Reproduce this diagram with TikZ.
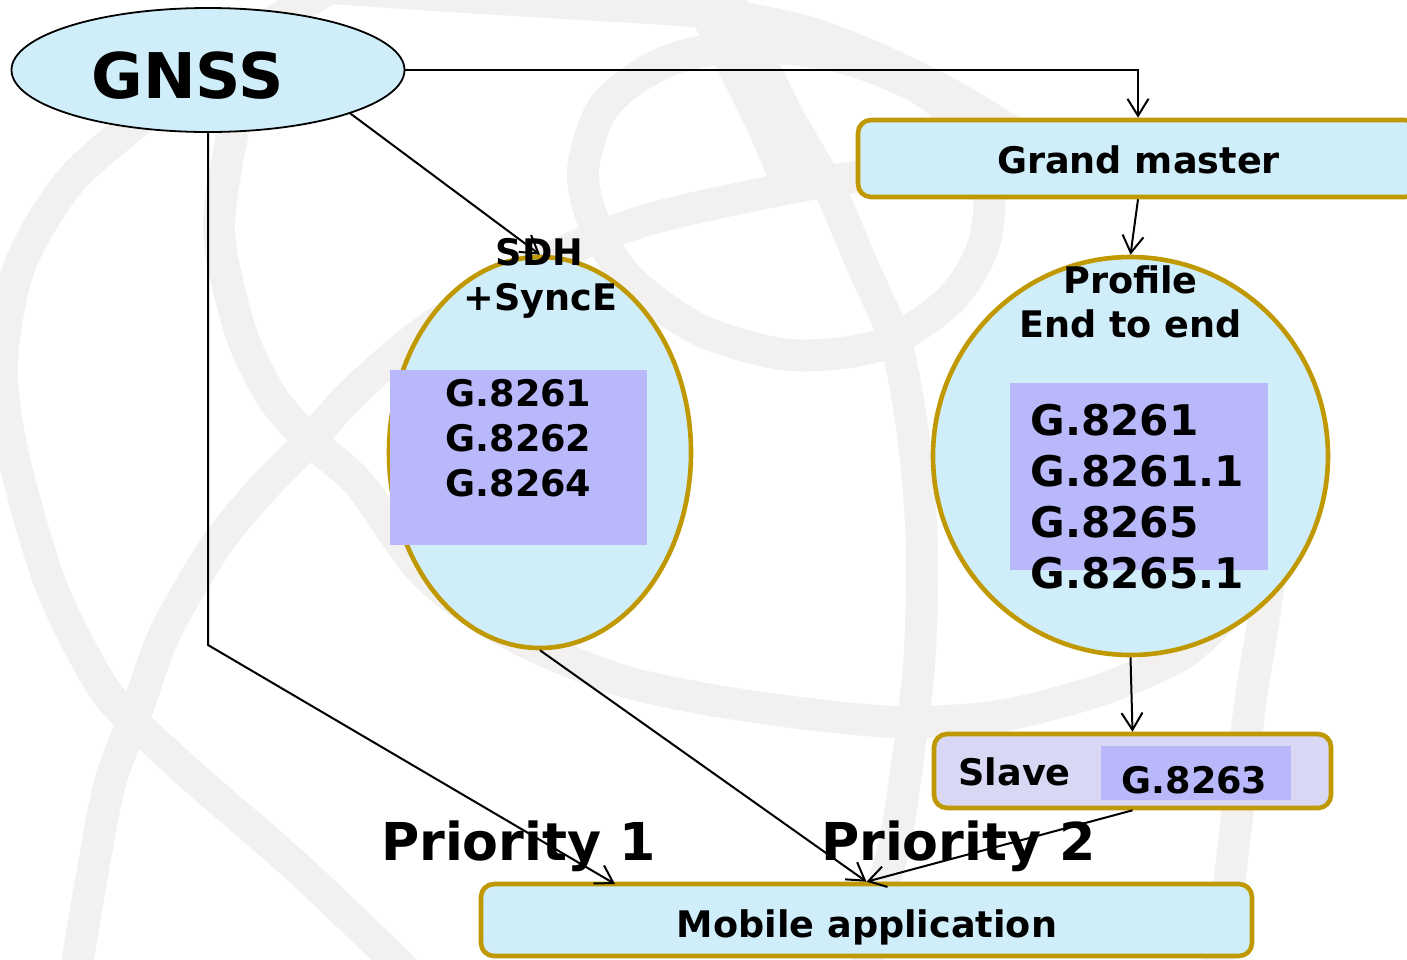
\documentclass[tikz,border=0pt]{standalone}
\usepackage{fontspec}
\setmainfont{DejaVu Sans}
\usetikzlibrary{shapes.geometric,arrows.meta}

\definecolor{skyfill}{RGB}{208,238,249}
\definecolor{goldline}{RGB}{192,152,0}
\definecolor{lilacbox}{RGB}{184,184,250}
\definecolor{slavefill}{RGB}{216,216,244}
\definecolor{globegrey}{RGB}{242,241,239}

\tikzset{
  globeband/.style={draw=globegrey, line width=16pt},
  gnssoval/.style={ellipse, draw=black, line width=0.9pt, fill=skyfill, inner sep=0pt},
  goldoval/.style={ellipse, draw=goldline, line width=2.3pt, fill=skyfill, inner sep=0pt},
  goldbox/.style={rectangle, draw=goldline, line width=2.3pt, rounded corners=6.5pt, fill=skyfill, inner sep=0pt},
  lilac/.style={rectangle, fill=lilacbox, inner sep=0pt},
  txt/.style={inner sep=0pt, anchor=base, font=\bfseries\fontsize{18.3}{22}\selectfont},
  bigtxt/.style={txt, font=\bfseries\fontsize{21.1}{25}\selectfont},
  prio/.style={txt, font=\bfseries\fontsize{26.1}{30}\selectfont},
  title/.style={txt, font=\bfseries\fontsize{31.5}{36}\selectfont},
  link/.style={draw=black, line width=1pt, -{Straight Barb[length=8.5pt,width=10.5pt,line width=1pt]}}
}

\begin{document}
\begin{tikzpicture}[x=0.5pt,y=-0.5pt]
\useasboundingbox (0,0) rectangle (1407,959);
\clip (0,0) rectangle (1407,959);
\fill[white] (0,0) rectangle (1407,959);

% faint globe emblem in the background
\draw[globeband] plot[smooth] coordinates {(330,-12) (230,50) (127,130) (67,185) (20,265) (2,360) (12,450) (50,583) (100,683) (137,725) (200,783) (300,870) (410,975)};
\draw[globeband] plot[smooth] coordinates {(330,-12) (450,-4) (580,4) (700,12) (800,30) (880,60) (960,100) (1040,150)};
\draw[globeband] plot[smooth] coordinates {(75,975) (93,870) (110,783) (137,710) (165,633) (213,550) (255,497) (310,440) (353,393) (420,335) (520,272) (640,222) (790,188) (900,170) (1010,150)};
\draw[globeband] plot[smooth] coordinates {(240,100) (233,130) (219,230) (240,330) (272,397) (310,440) (360,485) (417,565) (470,610) (536,647) (620,680) (700,698) (800,713) (900,722) (1000,716) (1100,690) (1180,655) (1225,615)};
\draw[globeband] plot[smooth cycle] coordinates {(583,170) (605,105) (665,62) (740,47) (840,57) (930,95) (985,160) (985,240) (950,300) (880,345) (790,355) (700,330) (630,280) (595,225)};
\draw[globeband] plot[smooth] coordinates {(720,-15) (760,60) (790,120) (830,190) (860,260) (897,347) (915,450) (922,550) (920,650) (913,720) (897,833) (880,900) (866,975)};
\draw[globeband] plot[smooth] coordinates {(690,-15) (720,40) (760,120) (790,190)};
\draw[globeband] plot[smooth] coordinates {(1290,420) (1275,540) (1262,630) (1250,705) (1230,876) (1215,975)};

% shapes
\node[gnssoval, minimum width=196.5pt, minimum height=62pt] (gnss) at (208,70) {};
\node[goldbox, minimum width=280pt, minimum height=38.5pt] (gm) at (1138,158.5) {};
\node[goldoval, minimum width=151pt, minimum height=195.5pt] (sdh) at (540,452.5) {};
\node[lilac, minimum width=128.5pt, minimum height=87.5pt] (sdhstd) at (518.5,457.5) {};
\node[goldoval, minimum width=197.5pt, minimum height=199pt] (prof) at (1130.5,456) {};
\node[lilac, minimum width=129pt, minimum height=93.5pt] (profstd) at (1139,476.5) {};
\node[goldbox, fill=slavefill, minimum width=198.5pt, minimum height=37pt] (slave) at (1132.5,771) {};
\node[lilac, minimum width=95pt, minimum height=27pt] (slavestd) at (1196,773) {};
\node[goldbox, minimum width=385.5pt, minimum height=36pt] (mob) at (866.5,920) {};

% texts
\node[title] (gnsstext) at (187.5,98) {GNSS};
\node[txt] (gmtext) at (1138.5,173) {Grand master};
\node[txt] (sdhtext) at (539.5,265) {SDH};
\node[txt] (synctext) at (540.5,310) {+SyncE};
\node[txt] (sdhA) at (518.5,406) {G.8261};
\node[txt] (sdhB) at (518.5,451) {G.8262};
\node[txt] (sdhC) at (518.5,496) {G.8264};
\node[txt] (proftext) at (1130.5,293) {Profile};
\node[txt] (e2etext) at (1130.5,337) {End to end};
\node[bigtxt, anchor=base west] (profA) at (1030,435) {G.8261};
\node[bigtxt, anchor=base west] (profB) at (1030,486) {G.8261.1};
\node[bigtxt, anchor=base west] (profC) at (1030,537) {G.8265};
\node[bigtxt, anchor=base west] (profD) at (1030,588) {G.8265.1};
\node[txt, anchor=base west] (slavetext) at (958,785) {Slave};
\node[txt] (slavestdtext) at (1194.5,793) {G.8263};
\node[txt] (mobtext) at (867,937) {Mobile application};
\node[prio] (prioA) at (518.5,860) {Priority 1};
\node[prio] (prioB) at (958.5,860) {Priority 2};

% connector end points
\coordinate (gbend) at (208,645);
\coordinate (p1tip) at (615,884);

% connectors
\draw[link] (gnss.east) -| (gm.north);
\draw[link] (gm.south) -- (prof.north);
\draw[link] (gnss.-17) -- (sdh.north);
\draw[link] (gnss.south) -- (gbend) -- (p1tip);
\draw[link] (sdh.south) -- (mob.north);
\draw[link] (prof.south) -- (slave.north);
\draw[link] (slave.south) -- (mob.north);
\end{tikzpicture}
\end{document}
